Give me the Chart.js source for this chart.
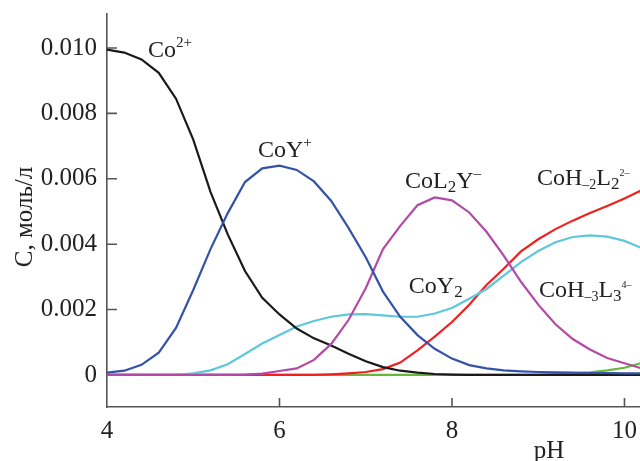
<!DOCTYPE html>
<html>
<head>
<meta charset="utf-8">
<script src="https://cdn.jsdelivr.net/npm/chart.js@4.4.1/dist/chart.umd.min.js"></script>
<style>
  html, body { margin: 0; padding: 0; background: #ffffff; }
  #wrap { width: 640px; height: 461px; position: relative; }
</style>
</head>
<body>
<div id="wrap"><canvas id="c"></canvas></div>
<script>
// pH values (x categories)
const pH = [4.0,4.2,4.4,4.6,4.8,5.0,5.2,5.4,5.6,5.8,6.0,6.2,6.4,6.6,6.8,7.0,7.2,7.4,7.6,7.8,8.0,8.2,8.4,8.6,8.8,9.0,9.2,9.4,9.6,9.8,10.0,10.2];
// concentrations, in units of 1e-3 mol/l
const coFree   = [9.95,9.86,9.65,9.24,8.45,7.2,5.6,4.3,3.18,2.36,1.85,1.42,1.12,0.9,0.65,0.42,0.24,0.13,0.07,0.03,0.01,0,0,0,0,0,0,0,0,0,0,0];
const coY      = [0.07,0.13,0.31,0.68,1.44,2.6,3.85,4.95,5.9,6.32,6.4,6.27,5.92,5.32,4.5,3.6,2.55,1.78,1.22,0.8,0.5,0.3,0.2,0.14,0.11,0.09,0.08,0.07,0.06,0.06,0.05,0.05];
const coL2Y    = [0,0,0,0,0,0,0,0,0.01,0.04,0.12,0.2,0.46,0.95,1.68,2.65,3.85,4.56,5.19,5.43,5.34,4.97,4.38,3.65,2.85,2.15,1.55,1.1,0.78,0.52,0.36,0.2];
const coY2     = [0,0,0,0,0,0.05,0.14,0.33,0.64,0.96,1.22,1.48,1.65,1.78,1.85,1.86,1.82,1.78,1.78,1.88,2.05,2.33,2.63,3.04,3.45,3.79,4.06,4.22,4.27,4.23,4.1,3.88];
const coH2L2   = [0,0,0,0,0,0,0,0,0,0,0,0,0,0.02,0.05,0.09,0.18,0.38,0.75,1.17,1.62,2.15,2.75,3.25,3.78,4.15,4.46,4.72,4.95,5.17,5.4,5.65];
const coH3L3   = [0,0,0,0,0,0,0,0,0,0,0,0,0,0,0,0,0,0,0,0,0,0,0,0,0,0.01,0.03,0.05,0.08,0.14,0.22,0.37];
const UNIT = 1e-3;

// tick labels
const xTickValues = [4, 6, 8, 10];
const yTickLabels = {0: '0', 0.002: '0.002', 0.004: '0.004', 0.006: '0.006', 0.008: '0.008', 0.01: '0.010'};

const SERIF = "'Liberation Serif', 'Times New Roman', serif";

function series(arr) { return pH.map((x, i) => ({x: x, y: arr[i] * UNIT})); }

// species labels: segments with sub/sup, anchored in data coordinates
const speciesLabels = [
  {x: 4.475, y: 0.00972, parts: [['Co','n'], ['2+','sup']]},
  {x: 5.75,  y: 0.00667, parts: [['CoY','n'], ['+','sup']]},
  {x: 7.455, y: 0.00572, parts: [['CoL','n'], ['2','sub'], ['Y','n'], ['–','sup']]},
  {x: 8.985, y: 0.00581, parts: [['CoH','n'], ['–2','sub2'], ['L','n'], ['2','sub'], ['2–','sup2']]},
  {x: 7.50,  y: 0.00251, parts: [['CoY','n'], ['2','sub']]},
  {x: 9.01,  y: 0.00239, parts: [['CoH','n'], ['–3','sub2'], ['L','n'], ['3','sub'], ['4–','sup2']]}
];

const styles = {
  n:    {size: 24, dy: 0},
  sub:  {size: 17, dy: 4},
  sub2: {size: 14, dy: 4},
  sup:  {size: 15, dy: -10},
  sup2: {size: 10, dy: -9}
};

const decorPlugin = {
  id: 'decor',
  beforeDatasetsDraw(chart) {
    const ctx = chart.ctx;
    const xs = chart.scales.x, ys = chart.scales.y;
    ctx.save();
    ctx.strokeStyle = '#555';
    ctx.lineWidth = 1.6;
    ctx.beginPath();
    xs.ticks.forEach(t => {
      if (t.value === 4) return;
      const px = xs.getPixelForValue(t.value);
      ctx.moveTo(px, ys.bottom);
      ctx.lineTo(px, ys.bottom - 9);
    });
    ys.ticks.forEach(t => {
      const py = ys.getPixelForValue(t.value);
      ctx.moveTo(xs.left, py);
      ctx.lineTo(xs.left + 10, py);
    });
    ctx.stroke();
    ctx.restore();
  },
  afterDatasetsDraw(chart) {
    const ctx = chart.ctx;
    const xs = chart.scales.x, ys = chart.scales.y;
    ctx.save();
    ctx.fillStyle = '#222';
    ctx.textBaseline = 'alphabetic';
    ctx.textAlign = 'left';
    speciesLabels.forEach(lab => {
      let px = xs.getPixelForValue(lab.x);
      const py = ys.getPixelForValue(lab.y);
      lab.parts.forEach(([txt, kind]) => {
        const st = styles[kind];
        ctx.font = st.size + 'px ' + SERIF;
        ctx.fillText(txt, px, py + st.dy);
        px += ctx.measureText(txt).width;
      });
    });
    // y axis title
    ctx.font = '25px ' + SERIF;
    ctx.save();
    ctx.translate(32, 217);
    ctx.rotate(-Math.PI / 2);
    ctx.textAlign = 'center';
    ctx.fillText('С, моль/л', 0, 0);
    ctx.restore();
    // x axis title
    ctx.textAlign = 'center';
    ctx.fillText('pH', 549, 458);
    ctx.restore();
  }
};

new Chart(document.getElementById('c'), {
  type: 'line',
  data: {
    datasets: [
      {label: 'CoY+', data: series(coY), borderColor: '#3352a8'},
      {label: 'CoL2Y-', data: series(coL2Y), borderColor: '#b24aa6'},
      {label: 'Co2+', data: series(coFree), borderColor: '#1a1a1a'},
      {label: 'CoY2', data: series(coY2), borderColor: '#5ec8da'},
      {label: 'CoH-2L2', data: series(coH2L2), borderColor: '#f02020'},
      {label: 'CoH-3L3', data: series(coH3L3), borderColor: '#66b83a'}
    ].map(d => Object.assign(d, {borderWidth: 2.2, pointRadius: 0, tension: 0, fill: false}))
  },
  options: {
    responsive: true,
    maintainAspectRatio: false,
    animation: false,
    layout: {padding: {left: 0, right: 0, top: 14, bottom: 0}},
    plugins: {legend: {display: false}, tooltip: {enabled: false}},
    scales: {
      x: {
        type: 'linear',
        min: 4, max: 10.18,
        afterFit(scale) { scale.height = 54; scale.paddingLeft = 0; scale.paddingRight = 0; },
        grid: {display: true, drawOnChartArea: false, drawTicks: false},
        border: {display: true, color: '#555', width: 1.6},
        ticks: {
          stepSize: 2, includeBounds: false, padding: 9, maxRotation: 0,
          color: '#222', font: {family: SERIF, size: 25},
          callback: v => xTickValues.includes(v) ? String(v) : ''
        }
      },
      y: {
        min: -0.00098, max: 0.01104,
        afterFit(scale) { scale.width = 107; scale.paddingTop = 0; scale.paddingBottom = 0; },
        grid: {display: true, drawOnChartArea: false, drawTicks: false},
        border: {display: true, color: '#555', width: 1.6},
        ticks: {
          stepSize: 0.002, includeBounds: false, padding: 10,
          color: '#222', font: {family: SERIF, size: 25},
          callback: v => {
            const k = Math.round(v * 1000) / 1000;
            return yTickLabels[k] !== undefined ? yTickLabels[k] : '';
          }
        }
      }
    }
  },
  plugins: [decorPlugin]
});
</script>
</body>
</html>
